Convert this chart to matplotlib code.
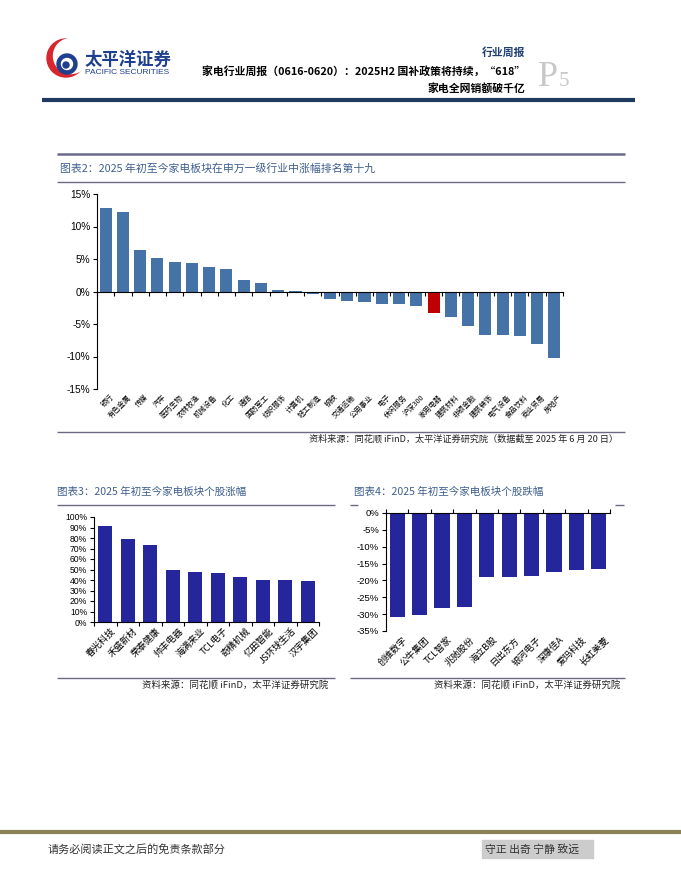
import numpy as np
import matplotlib
matplotlib.use("Agg")
import matplotlib.pyplot as plt
from matplotlib.patches import Circle, Rectangle

W, H = 681, 881
CJK = ['Noto Sans CJK SC', 'DejaVu Sans']
plt.rcParams['font.family'] = CJK

# ---- chart 2: SW level-1 industries, YTD change (%)
ind_names = ['银行', '有色金属', '传媒', '汽车', '医药生物', '农林牧渔', '机械设备', '化工',
             '通信', '国防军工', '纺织服饰', '计算机', '轻工制造', '钢铁', '交通运输',
             '公用事业', '电子', '休闲服务', '沪深300', '家用电器', '建筑材料', '非银金融',
             '建筑装饰', '电气设备', '食品饮料', '商业贸易', '房地产']
ind_chg = [12.9, 12.3, 6.4, 5.2, 4.6, 4.4, 3.8, 3.4, 1.8, 1.3, 0.3, 0.1, -0.4, -1.2, -1.5,
           -1.6, -1.9, -1.9, -2.2, -3.3, -3.9, -5.3, -6.7, -6.7, -6.9, -8.0, -10.2]
highlight = '家用电器'

# ---- chart 3: top gainers (%)
up_names = ['春光科技', '禾盛新材', '荣泰健康', '帅丰电器', '海满来业', 'TCL电子', '奇精机械',
            '亿田智能', 'JS环球生活', '汉宇集团']
up_chg = [91.0, 79.5, 73.5, 49.8, 47.2, 46.3, 42.5, 40.3, 39.9, 39.3]

# ---- chart 4: top losers (%)
down_names = ['创维数字', '公牛集团', 'TCL智家', '兆驰股份', '海立B股', '日出东方', '银河电子',
              '深康佳A', '爱玛科技', '长虹美菱']
down_chg = [-30.8, -30.4, -28.1, -27.9, -19.0, -19.0, -18.7, -17.6, -16.8, -16.5]

BLUE = '#4572a7'
RED = '#c00000'
NAVY_BAR = '#25259c'
TITLE_C = '#3f5f8f'
BOX_C = '#6a6a88'

fig = plt.figure(figsize=(W / 100, H / 100), dpi=100)
bg = fig.add_axes([0, 0, 1, 1])
bg.set_xlim(0, W); bg.set_ylim(H, 0); bg.axis('off')


def px_axes(x0, y0, x1, y1):
    return fig.add_axes([x0 / W, 1 - y1 / H, (x1 - x0) / W, (y1 - y0) / H])


def hline(y, x0, x1, lw=1.0, c=BOX_C):
    bg.plot([x0, x1], [y, y], color=c, lw=lw, solid_capstyle='butt')


# ---------------- header ----------------
bg.add_patch(Circle((66, 58), 19, color='#d7262e', zorder=1))
bg.add_patch(Circle((71, 56), 17.5, color='white', zorder=1.1))
bg.add_patch(Circle((67, 64), 10, color='#1f3f8f', zorder=1.2))
bg.add_patch(Circle((67, 64), 5.5, color='white', zorder=1.3))
bg.add_patch(Circle((66, 65), 3, color='#1f3f8f', zorder=1.4))
bg.text(85, 60, '太平洋证券', fontsize=12.5, fontweight='bold', color='#1f3f8f', va='center',
        zorder=5)
bg.text(85, 73, 'PACIFIC SECURITIES', fontsize=6, color='#1f3f8f', va='center',
        family='Liberation Sans', zorder=5)
bg.text(525, 53, '行业周报', fontsize=7.8, color='#1f3f6f', ha='right', va='center',
        fontweight='bold')
bg.text(525, 71, '家电行业周报（0616-0620）：2025H2 国补政策将持续，“618”', fontsize=7.8,
        ha='right', va='center', fontweight='bold')
bg.text(525, 88, '家电全网销额破千亿', fontsize=7.8, ha='right', va='center',
        fontweight='bold')
bg.text(538, 86, 'P', fontsize=26, color='#c8c8c8', family='Liberation Serif', va='baseline')
bg.text(559, 86, '5', fontsize=15, color='#c8c8c8', family='Liberation Serif', va='baseline')
hline(100, 42, 635, lw=3, c='#1f3a5f')

# ---------------- chart 2 box ----------------
hline(154, 57, 625, lw=1.8)
bg.text(60, 168, '图表2：2025 年初至今家电板块在申万一级行业中涨幅排名第十九', fontsize=7.8,
        color=TITLE_C, va='center')
hline(182, 57, 625, lw=1.0)
hline(432, 57, 625, lw=1.0)
bg.text(618, 439, '资料来源：同花顺 iFinD，太平洋证券研究院（数据截至 2025 年 6 月 20 日）',
        fontsize=6.6, ha='right', va='center', style='italic', color='#222222')

# ---------------- chart 3 / 4 boxes ----------------
bg.text(57, 492, '图表3：2025 年初至今家电板块个股涨幅', fontsize=7.6, color=TITLE_C, va='center')
hline(505, 57, 335, lw=1.0)
hline(678, 57, 335, lw=1.0)
bg.text(328, 685, '资料来源：同花顺 iFinD，太平洋证券研究院', fontsize=6.8, ha='right',
        va='center', style='italic', color='#222222')

bg.text(354, 492, '图表4：2025 年初至今家电板块个股跌幅', fontsize=7.6, color=TITLE_C, va='center')
hline(505, 350, 358, lw=1.0)
hline(505, 615, 624, lw=1.0)
hline(678, 350, 625, lw=1.0)
bg.text(620, 685, '资料来源：同花顺 iFinD，太平洋证券研究院', fontsize=6.8, ha='right',
        va='center', style='italic', color='#222222')

# ---------------- footer ----------------
hline(832, 0, W, lw=3, c='#8a8254')
bg.text(48, 849, '请务必阅读正文之后的免责条款部分', fontsize=8, va='center', color='#333333')
bg.add_patch(Rectangle((482, 840), 111, 18, color='#cccccc'))
bg.text(485, 849, '守正 出奇 宁静 致远', fontsize=7.8, va='center', color='#333333')


def bar_axes(ax, names, vals, colors, width, ylim, step, ysize, lsize, loff, axis_top=False):
    x = np.arange(len(vals))
    ax.bar(x, vals, width=width, color=colors, zorder=2)
    ax.set_xlim(-0.5, len(vals) - 0.5)
    ax.set_ylim(*ylim)
    ax.set_yticks(np.arange(ylim[0], ylim[1] + 0.1, step))
    ax.yaxis.set_major_formatter(lambda v, p: f"{v:.0f}%")
    ax.tick_params(axis='y', direction='out', length=3, width=0.8, labelsize=ysize, pad=2,
                   labelfontfamily='Liberation Sans')
    ax.spines['right'].set_visible(False)
    ax.spines['left'].set_linewidth(0.8)
    ax.set_xticks(np.arange(len(vals) + 1) - 0.5)
    ax.set_xticklabels([])
    if axis_top:
        ax.spines['bottom'].set_visible(False)
        ax.spines['top'].set_linewidth(0.8)
        ax.xaxis.tick_top()
    else:
        ax.spines['top'].set_visible(False)
        ax.spines['bottom'].set_position(('data', 0))
        ax.spines['bottom'].set_linewidth(0.8)
        ax.spines['bottom'].set_zorder(3)
    ax.tick_params(axis='x', direction='out', length=3, width=0.8)
    ax.patch.set_alpha(0)
    for i, n in enumerate(names):
        ax.annotate(n, xy=(i, 0), xycoords=('data', 'axes fraction'), xytext=loff,
                    textcoords='offset points', rotation=45, ha='right', va='top',
                    rotation_mode='anchor', fontsize=lsize)


ax1 = px_axes(97, 194, 563, 389)
c1 = [RED if n == highlight else BLUE for n in ind_names]
bar_axes(ax1, ind_names, ind_chg, c1, 0.7, (-15, 15), 5, 7.3, 5.2, (3, -3))

ax3 = px_axes(94, 517, 319, 622)
bar_axes(ax3, up_names, up_chg, NAVY_BAR, 0.62, (0, 100), 10, 6.2, 6.6, (4, -3))

ax4 = px_axes(386, 513, 610, 631)
bar_axes(ax4, down_names, down_chg, NAVY_BAR, 0.68, (-35, 0), 5, 6.8, 6.6, (4, -3),
         axis_top=True)

fig.savefig('out.png', dpi=100)
